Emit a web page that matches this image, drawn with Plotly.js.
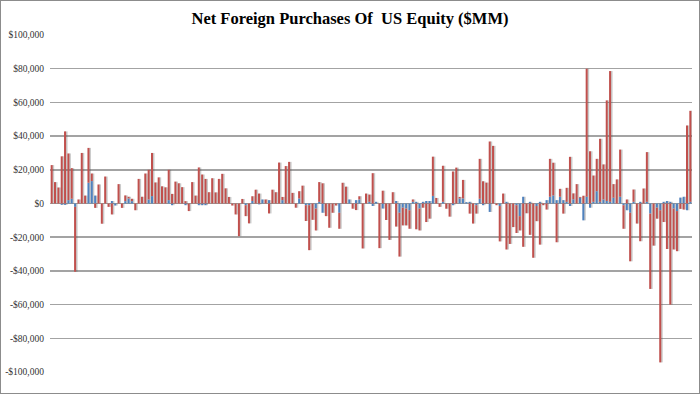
<!DOCTYPE html>
<html><head><meta charset="utf-8">
<script src="https://cdn.plot.ly/plotly-3.0.1.min.js"></script>
<style>
html,body{margin:0;padding:0;background:#fff;}
#wrap{position:relative;width:700px;height:394px;}
#chart{width:700px;height:394px;}
#frame{position:absolute;left:0;top:0;width:700px;height:394px;box-sizing:border-box;border:1px solid #8c8c8c;pointer-events:none;}
</style>
</head><body>
<div id="wrap"><div id="chart"></div><div id="frame"></div></div>
<script>
// Net foreign purchases, monthly ($MM) - second series (red)
const red = [22800,12700,9500,28000,42800,27700,18200,-38500,2400,30000,
4700,20700,4500,-2600,11300,-12000,16000,-2000,-6500,0,
11500,-2600,3400,1000,1400,-4000,14600,4000,17800,17600,
25600,12500,15500,10200,9600,18000,5700,13000,12000,9700,
1400,-4500,12700,4700,21400,17200,14600,6700,15000,6600,
14600,17600,9000,3900,-1200,-6500,-19400,2700,-6500,-11800,
2800,8200,5900,0,2400,-5900,8200,6700,24300,1900,
22200,24700,6300,-2500,4300,10600,-9400,-26700,-9700,-13000,
11700,12000,-7500,-14400,-5500,-1200,-9500,12300,10000,0,
-3100,-3900,1900,-26700,5900,4300,18000,0,-26500,7600,
-9800,-21600,6700,-13700,-26000,-10500,-10000,-11000,1400,-15300,
-13000,-2500,-11000,-9000,23300,3300,-2000,21400,-3100,-7800,
19000,21300,900,11000,0,-6000,-11900,-5000,23700,13200,
12400,36800,34200,-1000,-21000,5900,-27300,-24000,-14000,-16500,
-8500,-25700,-5800,-18600,-32200,-9000,-24400,-1000,-3600,22500,
19400,-23000,4700,-6000,8300,27700,3500,11500,500,4600,
76000,31000,15600,19200,37400,20800,59700,77600,8100,14300,
28000,-14000,2400,-28800,7300,-11900,-22400,8900,29500,-44700,
-25000,-6500,-90300,-11000,-27000,-60000,-24300,-23800,-3200,-3600,
46300,54000];

// first series (blue)
const blue = [0,0,0,-800,-800,2000,2800,-2000,0,0,
0,12300,13300,4700,0,0,0,0,1500,-1200,
0,0,1400,3000,1400,0,0,0,0,2400,
4400,0,0,0,0,2000,-1000,0,0,0,
-1000,0,0,0,-1000,-1000,-1000,0,0,0,
0,0,0,0,0,0,0,0,-1000,0,
1500,0,-500,2400,0,2000,0,0,0,2000,
0,0,0,0,3000,0,-1000,-1000,0,-3000,
1000,-5500,0,0,0,0,-5500,0,0,2400,
0,2000,2400,0,0,1000,-1500,1000,0,-3000,
0,0,0,1500,-5500,-2500,-3000,-4000,1000,1000,
-3000,1000,1500,1500,4500,0,0,1000,0,0,
-1000,0,3000,3000,800,1000,0,-1000,2800,-1000,
0,-5000,0,0,-1500,0,1000,0,0,-1000,
-7500,4000,0,1000,0,-1500,1000,0,2000,4000,
4800,2000,4000,2000,1000,-1500,2500,0,3400,-10000,
4000,-2500,1000,7300,1000,2400,1500,1000,3400,0,
4000,-1000,-4000,-5500,1000,0,1000,0,1000,-6000,
0,-2500,-4000,1000,1500,1000,-3000,-4500,3500,4000,
-4000,1000];

const yTickVals = [-100000,-80000,-60000,-40000,-20000,0,20000,40000,60000,80000,100000];
const yTickText = ['-$100,000','-$80,000','-$60,000','-$40,000','-$20,000','$0','$20,000','$40,000','$60,000','$80,000','$100,000'];

const n = red.length;
const months = [];
for (let i = 0; i < n; i++) months.push(i);

const shadowShift = 0.45;
const shadowColor = 'rgba(80,80,80,0.30)';

const traces = [
  {type:'bar', x:months, y:blue, xaxis:'x', yaxis:'y', marker:{color:shadowColor}, hoverinfo:'skip'},
  {type:'bar', x:months, y:red, xaxis:'x', yaxis:'y', marker:{color:shadowColor}, hoverinfo:'skip'},
  {type:'bar', x:months, y:blue, xaxis:'x2', yaxis:'y2', marker:{color:'#4F81BD'}},
  {type:'bar', x:months, y:red, xaxis:'x2', yaxis:'y2', marker:{color:'#C0504D'}}
];

const layout = {
  width:700, height:394,
  margin:{l:50, r:8, t:35, b:22},
  paper_bgcolor:'#ffffff', plot_bgcolor:'#ffffff',
  barmode:'relative', bargap:0.4,
  showlegend:false, hovermode:false,
  title:{text:'<b>Net Foreign Purchases Of\u00A0 US Equity ($MM)</b>',
         font:{family:'Liberation Serif, Times New Roman, serif', size:16.5, color:'#000'},
         x:0.5, xanchor:'center', xref:'container', y:1-18/394, yref:'container', yanchor:'middle'},
  xaxis:{range:[-0.5-shadowShift, n-0.5-shadowShift], visible:false, fixedrange:true},
  yaxis:{range:[-100000,100000], tickvals:yTickVals, ticktext:yTickText,
         showgrid:true, gridcolor:'#a3a3a3', gridwidth:1.5, zeroline:false, showline:false,
         ticks:'', ticklabelstandoff:5,
         tickfont:{family:'Liberation Serif, Times New Roman, serif', size:9.5, color:'#333'}},
  xaxis2:{range:[-0.5, n-0.5], overlaying:'x', visible:false},
  yaxis2:{range:[-100000,100000], overlaying:'y', visible:false}
};

Plotly.newPlot('chart', traces, layout, {staticPlot:true, displayModeBar:false});
</script>
</body></html>
